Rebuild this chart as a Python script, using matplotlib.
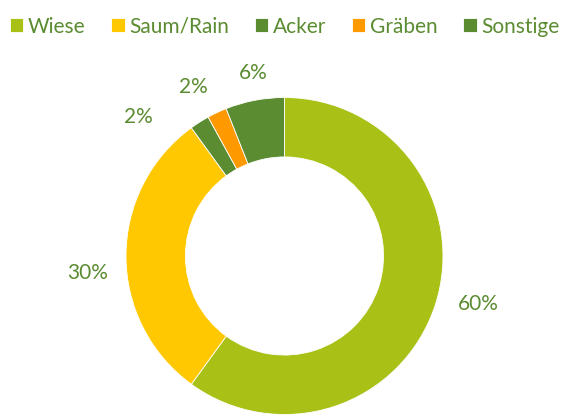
import numpy as np
import matplotlib.pyplot as plt

plt.rcParams['font.family'] = ['Lato', 'DejaVu Sans']

labels = ["Wiese", "Saum/Rain", "Acker", "Gräben", "Sonstige"]
values = [60, 30, 2, 2, 6]
colors = ["#A9C116", "#FFC800", "#5B8C32", "#FF9900", "#5B8C32"]
text_color = "#5B8C32"

# label placement (angle shift in degrees from slice middle, radius)
label_shift = [4, 5, 14, 3, -1]
label_radius = [1.26, 1.25, 1.27, 1.21, 1.17]

W, H = 569, 415
fig = plt.figure(figsize=(W / 100, H / 100), dpi=100)
ax = fig.add_axes([0, 0, 1, 1])

wedges, texts = ax.pie(
    values, colors=colors, startangle=90, counterclock=False,
    labeldistance=None,
    wedgeprops=dict(width=0.375, edgecolor="white", linewidth=0.6),
)

for w, v, s, rr in zip(wedges, values, label_shift, label_radius):
    mid = np.deg2rad((w.theta1 + w.theta2) / 2 + s)
    ax.text(rr * np.cos(mid), rr * np.sin(mid), "%d%%" % v, color=text_color,
            fontsize=15, ha="center", va="center")

# place the donut: center (284.5, 256) px from top, radius 158.5 px
cx, cy, r = 284.5, 256, 158.5
ax.set_aspect('auto')
ax.set_xlim(-cx / r, (W - cx) / r)
ax.set_ylim(-(H - cy) / r, cy / r)
ax.axis('off')

leg = fig.legend(wedges, labels, loc="upper center", bbox_to_anchor=(0.5, 1.0),
                 ncol=5, frameon=False, fontsize=15, handlelength=0.65,
                 handleheight=0.65, handletextpad=0.2, columnspacing=1.25,
                 borderaxespad=0.4)
for t in leg.get_texts():
    t.set_color(text_color)

fig.savefig("out.png", dpi=100)
